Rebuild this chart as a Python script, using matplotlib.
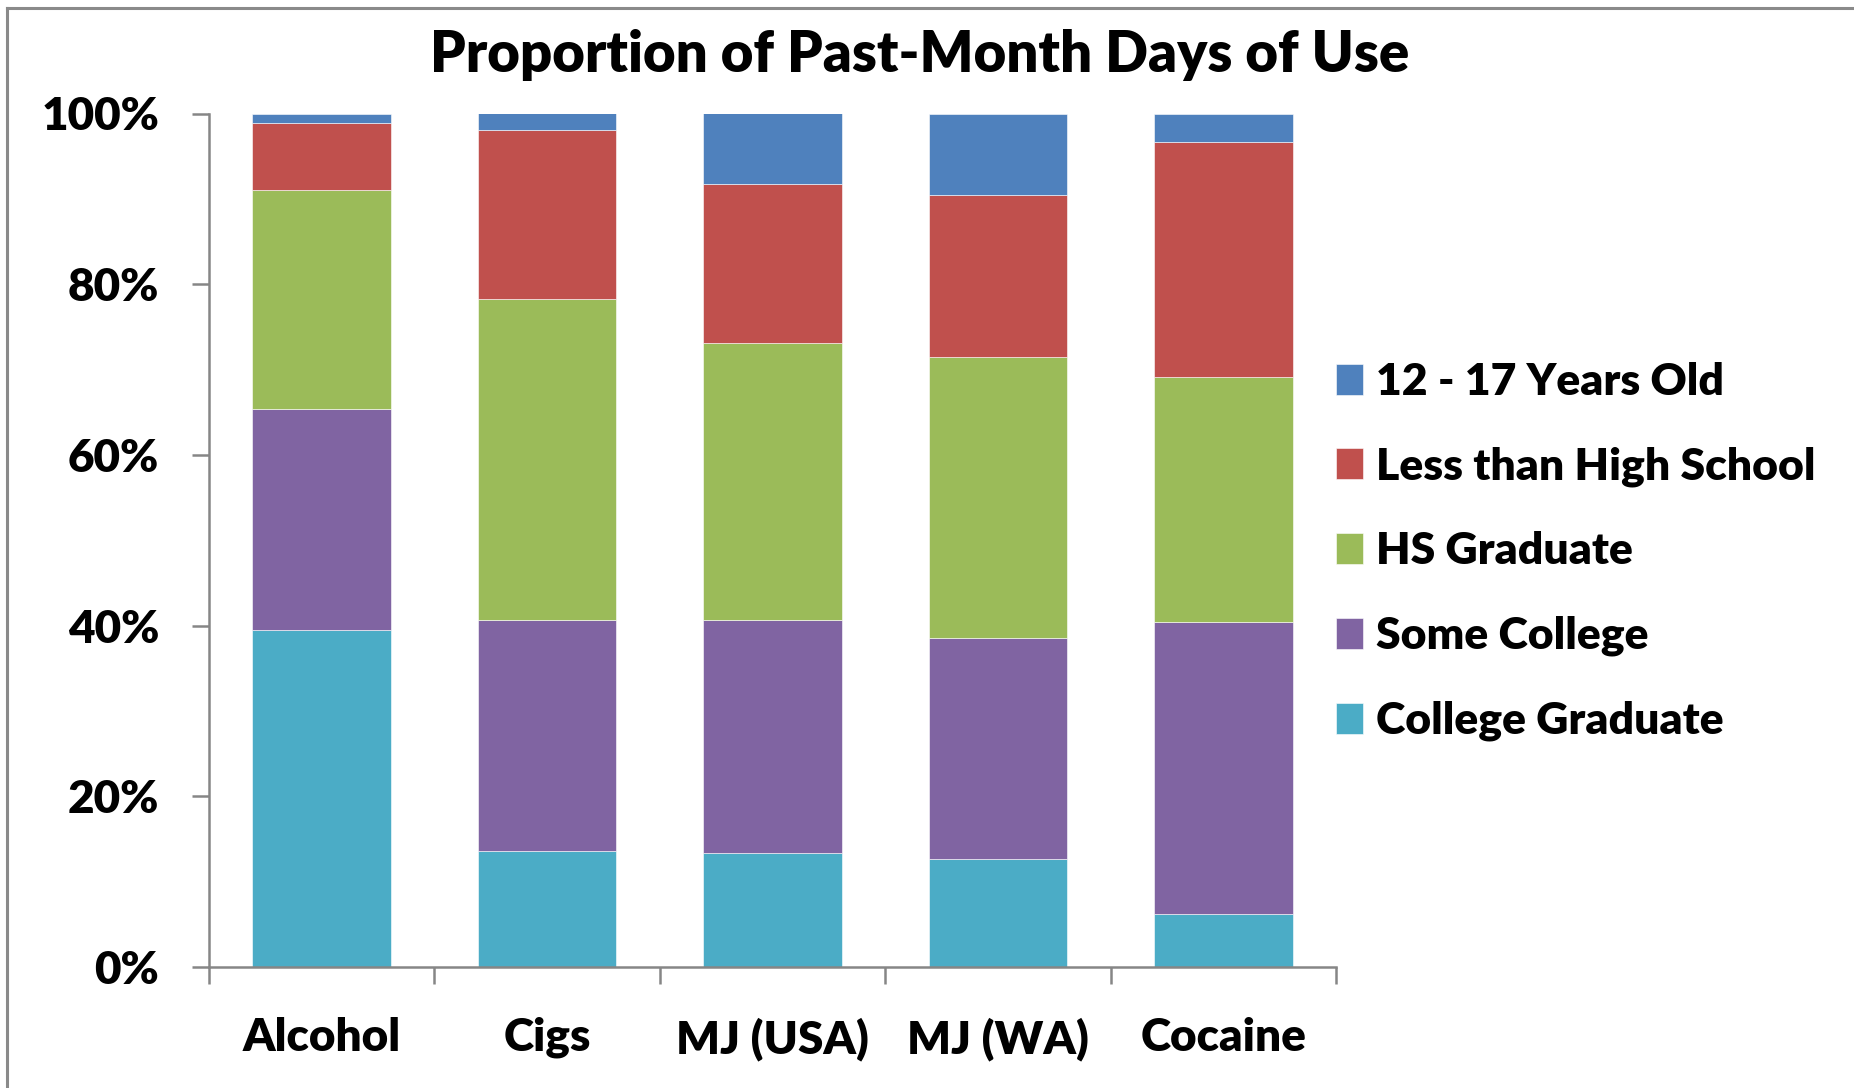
import numpy as np
import matplotlib.pyplot as plt
from matplotlib.lines import Line2D

# data (cumulative shares, converted to segment sizes below)
drugs = ['Alcohol', 'Cigs', 'MJ (USA)', 'MJ (WA)', 'Cocaine']
college_grad = [39.5, 13.6, 13.4, 12.6, 6.2]
some_college = [25.9, 27.1, 27.2, 26.0, 34.2]
hs_grad = [25.6, 37.6, 32.5, 32.9, 28.7]
less_than_hs = [7.9, 19.8, 18.6, 18.9, 27.6]
age_12_17 = [1.1, 1.9, 8.3, 9.6, 3.3]

series = [
    ('College Graduate', college_grad, '#4BACC6'),
    ('Some College', some_college, '#8064A2'),
    ('HS Graduate', hs_grad, '#9BBB59'),
    ('Less than High School', less_than_hs, '#C0504D'),
    ('12 - 17 Years Old', age_12_17, '#4F81BD'),
]

W = 'heavy'
plt.rcParams['font.family'] = ['Lato', 'DejaVu Sans']
plt.rcParams['font.weight'] = W

fig = plt.figure(figsize=(18.54, 10.88), dpi=100)
ax = fig.add_axes([209 / 1854, 1 - 967 / 1088, 1127 / 1854, 853.5 / 1088])

x = np.arange(len(drugs))
bottom = np.zeros(len(drugs))
handles = []
for name, vals, color in series:
    vals = np.array(vals) / 100.0
    b = ax.bar(x, vals, 0.615, bottom=bottom, color=color, label=name,
               edgecolor='white', linewidth=0.4)
    handles.append(b)
    bottom += vals

ax.set_xlim(-0.5, len(drugs) - 0.5)
ax.set_ylim(0, 1)
ax.set_yticks(np.linspace(0, 1, 6))
ax.set_yticklabels(['0%', '20%', '40%', '60%', '80%', '100%'], fontsize=33, fontweight=W)
ax.set_xticks(x)
ax.set_xticklabels(drugs, fontsize=33, fontweight=W)
ax.set_xticks(np.arange(len(drugs) + 1) - 0.5, minor=True)

for s in ['top', 'right']:
    ax.spines[s].set_visible(False)
for s in ['left', 'bottom']:
    ax.spines[s].set_color('#868686')
    ax.spines[s].set_linewidth(1.8)

ax.tick_params(axis='x', which='major', length=0, pad=36)
ax.tick_params(axis='x', which='minor', length=12, width=1.8, color='#868686')
ax.tick_params(axis='y', length=12, width=1.8, color='#868686', pad=24)

fig.text(920 / 1854, 1 - 55 / 1088, 'Proportion of Past-Month Days of Use',
         ha='center', va='center', fontsize=40.5, fontweight=W)

leg = fig.legend(handles[::-1], [s[0] for s in series][::-1],
                 loc='upper left', bbox_to_anchor=(1296 / 1854, 1 - 322 / 1088),
                 frameon=False, fontsize=32, handlelength=0.6, handleheight=0.7,
                 handletextpad=0.3, labelspacing=1.0)
for t in leg.get_texts():
    t.set_fontweight(W)

# outer chart frame
fig.add_artist(Line2D([7 / 1854, 7 / 1854], [0, 1 - 8 / 1088], color='#8a8a8a', lw=2.2))
fig.add_artist(Line2D([7 / 1854, 1], [1 - 8 / 1088, 1 - 8 / 1088], color='#8a8a8a', lw=2.2))

fig.savefig('out.png', dpi=100)
